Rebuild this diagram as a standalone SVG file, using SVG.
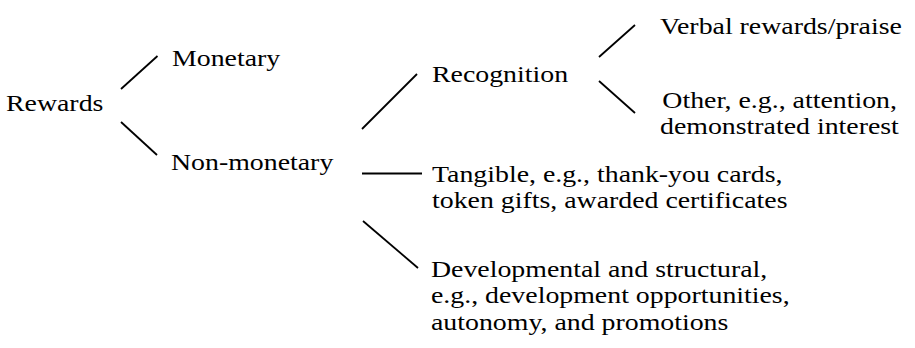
<svg xmlns="http://www.w3.org/2000/svg" width="915" height="348" viewBox="0 0 915 348">
<style>
  .t { font-family: "Liberation Serif", "Times New Roman", serif; font-size: 24px; fill: #000; }
  .c line { stroke: #000; stroke-width: 1.8; stroke-linecap: butt; }
</style>
<rect width="915" height="348" fill="#fff"/>
<g class="c" id="connectors">
  <line x1="121" y1="89" x2="157.5" y2="56"/>
  <line x1="121" y1="122" x2="157" y2="155"/>
  <line x1="362" y1="129" x2="417" y2="74"/>
  <line x1="362" y1="173.5" x2="422" y2="173.5"/>
  <line x1="363" y1="221" x2="418" y2="268"/>
  <line x1="599" y1="57" x2="635" y2="25"/>
  <line x1="599" y1="81" x2="635" y2="113"/>
</g>
<g id="rewards"><text class="t" transform="translate(6,111) scale(1.16,1)">Rewards</text></g>
<g id="monetary"><text class="t" transform="translate(172,66) scale(1.16,1)">Monetary</text></g>
<g id="nonmonetary"><text class="t" transform="translate(171,170) scale(1.16,1)">Non-monetary</text></g>
<g id="recognition"><text class="t" transform="translate(432,82) scale(1.16,1)">Recognition</text></g>
<g id="verbal"><text class="t" transform="translate(660,34) scale(1.16,1)">Verbal rewards/praise</text></g>
<g id="other"><text class="t" transform="translate(660,108) scale(1.16,1)"><tspan x="2" y="0">Other, e.g., attention,</tspan><tspan x="0" y="26.5">demonstrated interest</tspan></text></g>
<g id="tangible"><text class="t" transform="translate(432,182) scale(1.16,1)"><tspan x="0" y="0">Tangible, e.g., thank-you cards,</tspan><tspan x="0" y="26.5">token gifts, awarded certificates</tspan></text></g>
<g id="developmental"><text class="t" transform="translate(431,277) scale(1.16,1)"><tspan x="0" y="0">Developmental and structural,</tspan><tspan x="0" y="26.5">e.g., development opportunities,</tspan><tspan x="0" y="53">autonomy, and promotions</tspan></text></g>
</svg>
